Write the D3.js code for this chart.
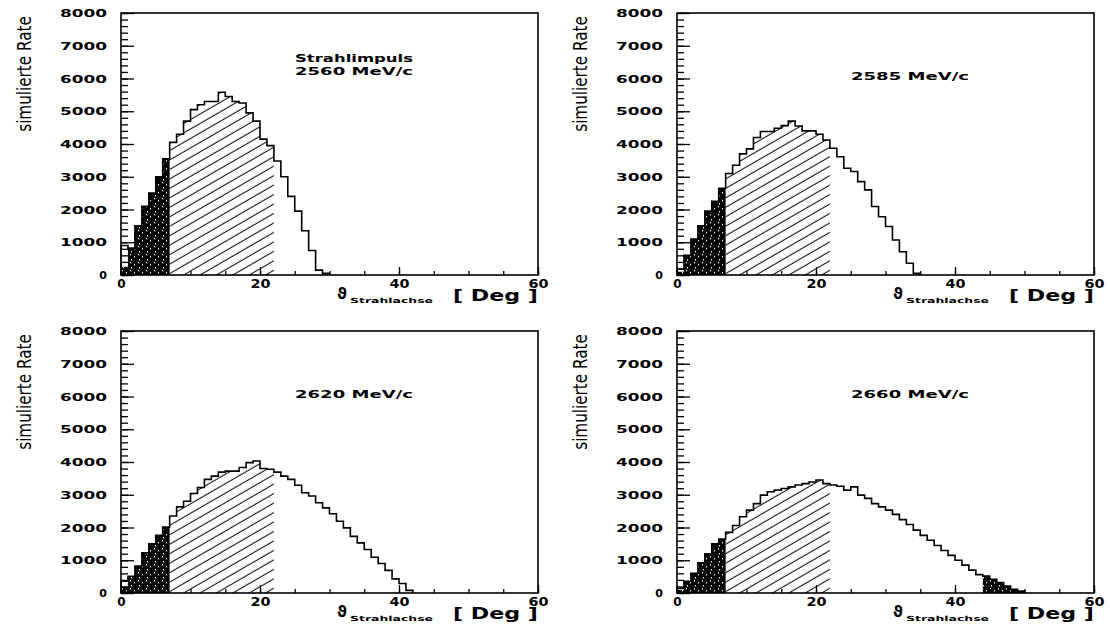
<!DOCTYPE html>
<html>
<head>
<meta charset="utf-8">
<script src="https://cdn.jsdelivr.net/npm/d3@7"></script>
<style>
body{margin:0;background:#fff;}
text{font-family:"DejaVu Sans",sans-serif;fill:#000;}
</style>
</head>
<body>
<div id="body"></div>
<script>
// simulated rate per 1 deg bin, starting at 0 deg
const rate2560 = [900, 820, 1500, 2100, 2500, 3000, 3550, 4050, 4300, 4700, 5050, 5200, 5300, 5300, 5580, 5450, 5300, 5250, 4950, 4700, 4150, 3950, 3480, 3000, 2400, 1950, 1350, 750, 150, 50];
const rate2585 = [175, 600, 1100, 1500, 1950, 2250, 2650, 3100, 3350, 3700, 3850, 4200, 4380, 4380, 4480, 4560, 4700, 4550, 4400, 4400, 4300, 4120, 3870, 3610, 3260, 3160, 2850, 2600, 2090, 1780, 1480, 1070, 710, 360, 50];
const rate2620 = [360, 510, 820, 1230, 1500, 1760, 2010, 2350, 2630, 2800, 3040, 3220, 3470, 3570, 3690, 3720, 3720, 3830, 3980, 4030, 3800, 3780, 3690, 3570, 3470, 3290, 3060, 2960, 2755, 2600, 2420, 2190, 1990, 1730, 1530, 1330, 1090, 900, 690, 430, 290, 80];
const rate2660 = [140, 360, 600, 920, 1200, 1500, 1650, 1850, 2060, 2330, 2530, 2730, 2990, 3090, 3140, 3190, 3240, 3300, 3340, 3390, 3450, 3340, 3300, 3260, 3140, 3240, 2990, 2890, 2730, 2630, 2530, 2400, 2240, 2090, 1920, 1760, 1610, 1450, 1300, 1150, 1000, 850, 700, 560, 520, 420, 320, 210, 110, 60];

// dark (cross-hatched) sub-histograms: from 0 deg, and the tail of the last one
const dark2560 = [250, 820, 1500, 2100, 2500, 3000, 3550];
const dark2585 = [100, 600, 1100, 1500, 1950, 2250, 2650];
const dark2620 = [200, 510, 820, 1230, 1500, 1760, 2010];
const dark2660 = [90, 360, 600, 920, 1200, 1500, 1650];
const darkTail2660 = [520, 420, 320, 210, 110, 60];
const darkTailStart2660 = 44;

// hatched angular window in deg
const hatchRange = [7, 22];

const titles = [["Strahlimpuls", "2560 MeV/c"], ["2585 MeV/c"], ["2620 MeV/c"], ["2660 MeV/c"]];
const yTickLabels = [0, 1000, 2000, 3000, 4000, 5000, 6000, 7000, 8000];
const xTickLabels = [0, 20, 40, 60];
const yTitle = "simulierte Rate";

const W = 417, H = 262;
const panels = [
	{rate: rate2560, dark: dark2560, tail: null, left: 121, top: 13, title: titles[0]},
	{rate: rate2585, dark: dark2585, tail: null, left: 677, top: 13, title: titles[1]},
	{rate: rate2620, dark: dark2620, tail: null, left: 121, top: 331, title: titles[2]},
	{rate: rate2660, dark: dark2660, tail: darkTail2660, tailStart: darkTailStart2660, left: 677, top: 331, title: titles[3]}
];

var svg = d3.select("#body").append("svg").attr("width", 1110).attr("height", 633);
svg.append("rect").attr("width", 1110).attr("height", 633).attr("fill", "#fff");

var defs = svg.append("defs");
var hatch = defs.append("pattern").attr("id", "hatch").attr("patternUnits", "userSpaceOnUse")
	.attr("width", 8).attr("height", 8.2).attr("patternTransform", "rotate(-30)");
hatch.append("line").attr("x1", -1).attr("x2", 9).attr("y1", 4).attr("y2", 4)
	.attr("stroke", "#000").attr("stroke-width", 1);
var dots = defs.append("pattern").attr("id", "dots").attr("patternUnits", "userSpaceOnUse")
	.attr("width", 8).attr("height", 8);
dots.append("rect").attr("width", 8).attr("height", 8).attr("fill", "#000");
[[1, 1], [5, 3], [2, 6]].forEach(function(p){
	dots.append("rect").attr("x", p[0]).attr("y", p[1]).attr("width", 1).attr("height", 1.4).attr("fill", "#fff");
});

var x = d3.scaleLinear().domain([0, 60]).range([0, W]);
var y = d3.scaleLinear().domain([0, 8000]).range([H, 0]);

function steps(vals, start){
	var pts = [];
	vals.forEach(function(v, i){ pts.push([start + i, v], [start + i + 1, v]); });
	return pts;
}
var area = d3.area().x(function(d){return x(d[0]);}).y0(H).y1(function(d){return y(d[1]);});
var line = d3.line().x(function(d){return x(d[0]);}).y(function(d){return y(d[1]);});

function stretch(sel, w){
	sel.each(function(){
		var t = d3.select(this), s = t.text();
		if (s.length > 1) t.attr("textLength", w * s.length / 4).attr("lengthAdjust", "spacingAndGlyphs");
	});
}

panels.forEach(function(p){
	var g = svg.append("g").attr("transform", "translate(" + p.left + "," + p.top + ")");

	// hatched window
	g.append("path").attr("d", area(steps(p.rate.slice(hatchRange[0], hatchRange[1]), hatchRange[0])))
		.attr("fill", "url(#hatch)");
	// dark regions
	g.append("path").attr("d", area(steps(p.dark, 0))).attr("fill", "url(#dots)");
	if (p.tail) g.append("path").attr("d", area(steps(p.tail, p.tailStart))).attr("fill", "url(#dots)");

	// histogram outline
	var pts = [[0, 0]].concat(steps(p.rate, 0)).concat([[p.rate.length, 0]]);
	g.append("path").attr("d", line(pts)).attr("fill", "none").attr("stroke", "#000")
		.attr("stroke-width", 1.6).attr("stroke-linejoin", "miter");

	// y axis, ticks pointing inside
	var yMinor = g.append("g").call(d3.axisLeft(y).tickValues(d3.range(0, 8001, 200)).tickSizeInner(-7).tickSizeOuter(0).tickFormat(""));
	var yAx = g.append("g").call(d3.axisLeft(y).tickValues(yTickLabels).tickSizeInner(-13).tickSizeOuter(0)
		.tickPadding(14).tickFormat(d3.format("d")));
	yAx.selectAll("text").attr("font-size", 11).attr("font-family", null).style("font-weight", "bold").call(stretch, 47);

	// x axis
	var xMinor = g.append("g").attr("transform", "translate(0," + H + ")")
		.call(d3.axisBottom(x).tickValues(d3.range(0, 61, 5)).tickSizeInner(-4).tickSizeOuter(0).tickFormat(""));
	var xAx = g.append("g").attr("transform", "translate(0," + H + ")")
		.call(d3.axisBottom(x).tickValues(xTickLabels).tickSizeInner(-8).tickSizeOuter(0).tickPadding(4));
	xAx.selectAll("text").attr("font-size", 12).attr("font-family", null).style("font-weight", "bold").call(stretch, 40);

	[yMinor, yAx, xMinor, xAx].forEach(function(a){
		a.select(".domain").remove();
		a.selectAll("line").attr("stroke-width", 1.3);
	});

	// frame
	g.append("rect").attr("width", W).attr("height", H).attr("fill", "none")
		.attr("stroke", "#000").attr("stroke-width", 1.6);

	// title
	var tb = p.title.length > 1 ? 49 : 67;
	p.title.forEach(function(t, i){
		g.append("text").attr("x", 174).attr("y", tb + i * 12.5).attr("font-size", 10.5).style("font-weight", "bold")
			.attr("textLength", 118).attr("lengthAdjust", "spacingAndGlyphs").text(t);
	});

	// y title, squeezed horizontally like the original narrow face
	g.append("text").attr("transform", "translate(-90," + 61 + ") rotate(-90) scale(0.8,1)")
		.attr("text-anchor", "middle").attr("font-size", 19).text(yTitle);

	// x title
	g.append("text").attr("x", 216).attr("y", H + 24).attr("font-size", 15).style("font-weight", "bold").text("\u03D1");
	g.append("text").attr("x", 229).attr("y", H + 28).attr("font-size", 7).style("font-weight", "bold")
		.attr("textLength", 83).attr("lengthAdjust", "spacingAndGlyphs").text("Strahlachse");
	g.append("text").attr("x", 332).attr("y", H + 26).attr("font-size", 16).style("font-weight", "bold")
		.attr("textLength", 85).attr("lengthAdjust", "spacingAndGlyphs").text("[ Deg ]");
});
</script>
</body>
</html>
